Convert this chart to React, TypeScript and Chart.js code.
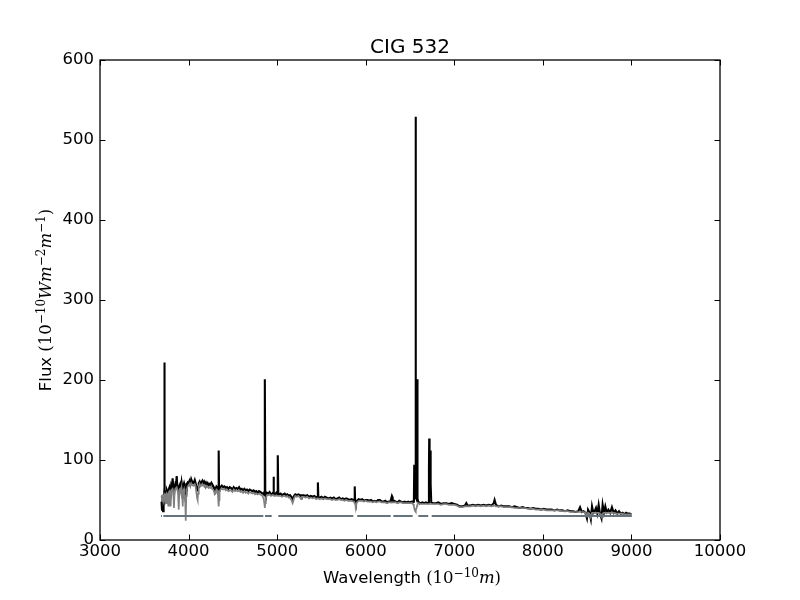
import { useEffect, useRef } from "react";
import { Chart, registerables } from "chart.js";

Chart.register(...registerables);

// ---------- DATA ----------
const titleText = "CIG 532";
const xTicks = [3000, 4000, 5000, 6000, 7000, 8000, 9000, 10000];
const yTicks = [0, 100, 200, 300, 400, 500, 600];

const wavelengths = [
  3695, 3700, 3706, 3712, 3716, 3720, 3724, 3727, 3730, 3736,
  3742, 3750, 3756, 3763, 3771, 3778, 3785, 3791, 3798, 3805,
  3812, 3820, 3828, 3835, 3842, 3850, 3858, 3866, 3873, 3881,
  3889, 3897, 3905, 3913, 3921, 3928, 3934, 3941, 3949, 3956,
  3962, 3968, 3974, 3981, 3990, 4000, 4010, 4020, 4030, 4040,
  4050, 4060, 4070, 4080, 4090, 4097, 4102, 4107, 4115, 4125,
  4135, 4145, 4155, 4165, 4175, 4185, 4195, 4205, 4215, 4225,
  4235, 4245, 4255, 4265, 4275, 4285, 4295, 4305, 4315, 4325,
  4332, 4336, 4340, 4344, 4350, 4360, 4375, 4390, 4405, 4420,
  4435, 4450, 4465, 4480, 4495, 4510, 4525, 4540, 4555, 4570,
  4585, 4600, 4615, 4630, 4645, 4660, 4675, 4690, 4705, 4720,
  4735, 4750, 4765, 4780, 4795, 4810, 4825, 4840, 4850, 4856,
  4861, 4866, 4872, 4885, 4900, 4915, 4930, 4945, 4954, 4959,
  4964, 4975, 4990, 5001, 5007, 5013, 5025, 5040, 5055, 5070,
  5085, 5100, 5115, 5130, 5145, 5160, 5175, 5190, 5205, 5220,
  5240, 5260, 5270, 5280, 5300, 5320, 5340, 5360, 5380, 5400,
  5420, 5440, 5455, 5460, 5465, 5480, 5500, 5520, 5540, 5560,
  5580, 5600, 5620, 5640, 5660, 5680, 5700, 5720, 5740, 5760,
  5780, 5800, 5820, 5840, 5860, 5872, 5876, 5880, 5890, 5900,
  5920, 5940, 5960, 5980, 6000, 6020, 6040, 6060, 6080, 6100,
  6120, 6140, 6160, 6180, 6200, 6220, 6240, 6260, 6280, 6296,
  6300, 6304, 6320, 6340, 6360, 6380, 6400, 6420, 6440, 6460,
  6480, 6500, 6520, 6536, 6544, 6548, 6551, 6558, 6563, 6567,
  6574, 6580, 6583, 6586, 6592, 6600, 6620, 6640, 6660, 6680,
  6700, 6710, 6714, 6717, 6721, 6726, 6731, 6735, 6740, 6760,
  6790, 6820, 6850, 6880, 6910, 6940, 6970, 7000, 7030, 7060,
  7090, 7120, 7136, 7150, 7180, 7210, 7240, 7270, 7300, 7330,
  7360, 7390, 7420, 7445, 7455, 7470, 7500, 7530, 7560, 7590,
  7620, 7650, 7680, 7710, 7740, 7770, 7800, 7830, 7860, 7890,
  7920, 7950, 7980, 8010, 8040, 8070, 8100, 8130, 8160, 8190,
  8220, 8250, 8280, 8310, 8340, 8370, 8400, 8420, 8440, 8460,
  8480, 8498, 8510, 8525, 8542, 8555, 8570, 8585, 8600, 8615,
  8630, 8645, 8662, 8675, 8690, 8705, 8720, 8740, 8760, 8780,
  8800, 8820, 8840, 8860, 8880, 8900, 8920, 8940, 8960, 8980,
  9000,
];

const observedFlux = [
  48, 38, 56, 36, 50, 42, 56, 222, 54, 60,
  58, 52, 62, 60, 48, 64, 66, 62, 52, 68,
  66, 77, 64, 55, 66, 70, 68, 80, 67, 64,
  58, 68, 70, 65, 72, 66, 52, 68, 71, 68,
  60, 48, 62, 70, 72, 71, 74, 70, 76, 73,
  71, 72, 75, 71, 66, 62, 65, 66, 71, 73,
  70, 72, 74, 71, 73, 70, 72, 69, 71, 68,
  70, 69, 71, 67, 68, 66, 62, 64, 67, 66,
  62, 60, 112, 62, 64, 66, 68, 66, 67, 65,
  66, 64, 66, 65, 63, 66, 64, 65, 64, 66,
  63, 64, 62, 64, 62, 63, 61, 63, 62, 61,
  62, 60, 61, 59, 61, 60, 59, 58, 57, 60,
  201, 58, 56, 59, 58, 60, 57, 58, 59, 79,
  58, 57, 59, 57, 106, 58, 57, 58, 56, 57,
  58, 56, 57, 55, 56, 54, 51, 55, 57, 56,
  57, 56, 53, 56, 56, 55, 56, 54, 55, 54,
  55, 53, 54, 72, 54, 53, 54, 52, 54, 53,
  52, 53, 52, 53, 51, 52, 53, 51, 52, 51,
  52, 51, 50, 51, 50, 51, 67, 50, 46, 49,
  51, 50, 51, 49, 50, 50, 49, 50, 48, 49,
  48, 50, 50, 48, 48, 49, 47, 48, 48, 55,
  54, 48, 49, 48, 47, 49, 48, 47, 48, 47,
  48, 47, 48, 48, 49, 94, 52, 54, 529, 56,
  52, 55, 201, 52, 48, 47, 46, 47, 46, 47,
  46, 47, 90, 127, 98, 92, 112, 70, 47, 46,
  46, 47, 45, 46, 46, 45, 46, 45, 44, 42,
  42, 43, 46, 43, 43, 44, 43, 44, 43, 44,
  43, 44, 43, 46, 50, 44, 42, 43, 42, 42,
  42, 41, 42, 41, 40, 41, 40, 40, 39, 40,
  39, 39, 38, 39, 38, 38, 38, 37, 38, 37,
  37, 36, 37, 36, 36, 35, 36, 41, 35, 36,
  34, 27, 38, 35, 26, 42, 34, 36, 40, 33,
  44, 33, 27, 44, 34, 42, 35, 38, 34, 41,
  34, 37, 33, 36, 33, 34, 32, 34, 33, 33,
  32,
];

const modelFlux = [
  55, 50, 57, 48, 53, 52, 55, 54, 53, 57,
  56, 46, 58, 57, 43, 60, 61, 58, 42, 62,
  62, 64, 60, 40, 60, 64, 64, 66, 63, 58,
  38, 63, 64, 60, 65, 56, 42, 62, 64, 58,
  48, 24, 55, 64, 67, 68, 70, 67, 71, 69,
  68, 69, 70, 67, 58, 52, 50, 58, 67, 70,
  67, 68, 70, 68, 69, 67, 68, 66, 67, 65,
  66, 65, 67, 64, 64, 62, 57, 58, 63, 62,
  56, 48, 42, 50, 60, 63, 64, 63, 64, 62,
  63, 61, 62, 62, 60, 63, 61, 62, 61, 62,
  60, 61, 59, 61, 59, 60, 58, 60, 59, 58,
  59, 57, 58, 57, 58, 57, 56, 54, 50, 45,
  40, 46, 52, 56, 56, 57, 55, 56, 56, 56,
  56, 55, 56, 55, 55, 55, 55, 55, 54, 55,
  55, 54, 55, 53, 53, 50, 46, 52, 55, 54,
  55, 53, 51, 54, 54, 53, 54, 52, 53, 52,
  53, 51, 52, 52, 52, 51, 52, 51, 52, 51,
  51, 51, 50, 51, 50, 50, 51, 50, 50, 49,
  50, 49, 49, 49, 48, 47, 46, 45, 42, 47,
  49, 49, 49, 48, 49, 48, 48, 48, 47, 48,
  47, 48, 48, 47, 47, 47, 46, 47, 47, 47,
  47, 47, 47, 47, 46, 47, 47, 46, 46, 46,
  46, 46, 46, 45, 42, 40, 38, 36, 35, 37,
  40, 43, 44, 45, 46, 46, 45, 45, 45, 45,
  45, 45, 45, 45, 45, 45, 45, 45, 45, 45,
  45, 45, 44, 45, 45, 44, 44, 44, 43, 41,
  41, 42, 42, 42, 42, 43, 42, 43, 42, 43,
  42, 43, 42, 43, 43, 42, 42, 42, 41, 41,
  41, 41, 40, 40, 40, 40, 40, 39, 39, 39,
  38, 38, 38, 38, 37, 37, 37, 37, 37, 37,
  36, 36, 36, 35, 35, 35, 35, 35, 35, 35,
  34, 30, 34, 33, 28, 34, 34, 34, 34, 34,
  34, 33, 29, 33, 34, 34, 34, 34, 34, 34,
  34, 33, 33, 33, 33, 33, 32, 32, 32, 32,
  32,
];

// masked-out regions shown as gaps (null) in the flag line
const maskWavelengths = [
  3690, 3700, 3707, 3715, 4844, 4853, 4863, 4939, 4976, 5013, 5860, 5882,
  5904, 6282, 6297, 6312, 6530, 6562, 6594, 6706, 6725, 6745, 9005,
];
const maskFlux = [
  30, 30, null, 30, 30, null, 30, 30, null, 30, 30, null,
  30, 30, null, 30, 30, null, 30, 30, null, 30, 30,
];

// ---------- STYLE ----------
const SANS = "DejaVu Sans";
const SERIF = "DejaVu Serif";
const BASE = 16.5;
const SUP = 12;
const RISE = 6.5;

type Run = { text: string; size: number; family: string; style?: string; rise?: number };

const xLabelRuns: Run[] = [
  { text: "Wavelength ", size: BASE, family: SANS },
  { text: "(10", size: BASE, family: SERIF },
  { text: "\u221210", size: SUP, family: SERIF, rise: RISE },
  { text: "m", size: BASE, family: SERIF, style: "italic" },
  { text: ")", size: BASE, family: SERIF },
];

const yLabelRuns: Run[] = [
  { text: "Flux ", size: BASE, family: SANS },
  { text: "(10", size: BASE, family: SERIF },
  { text: "\u221210", size: SUP, family: SERIF, rise: RISE },
  { text: "W", size: BASE, family: SERIF, style: "italic" },
  { text: "m", size: BASE, family: SERIF, style: "italic" },
  { text: "\u22122", size: SUP, family: SERIF, rise: RISE },
  { text: "m", size: BASE, family: SERIF, style: "italic" },
  { text: "\u22121", size: SUP, family: SERIF, rise: RISE },
  { text: ")", size: BASE, family: SERIF },
];

function drawRuns(ctx: CanvasRenderingContext2D, runs: Run[], x: number, y: number, angle: number) {
  ctx.save();
  ctx.translate(x, y);
  ctx.rotate(angle);
  ctx.textBaseline = "alphabetic";
  ctx.textAlign = "left";
  ctx.fillStyle = "#000";
  const fontOf = (r: Run) => `${r.style ?? "normal"} ${r.size}px "${r.family}"`;
  let total = 0;
  const widths = runs.map((r) => {
    ctx.font = fontOf(r);
    const w = ctx.measureText(r.text).width;
    total += w;
    return w;
  });
  let cx = -total / 2;
  runs.forEach((r, i) => {
    ctx.font = fontOf(r);
    ctx.fillText(r.text, cx, -(r.rise ?? 0));
    cx += widths[i];
  });
  ctx.restore();
}

const framePlugin = {
  id: "mplFrame",
  afterDatasetsDraw(chart: any) {
    const ctx: CanvasRenderingContext2D = chart.ctx;
    const { left, right, top, bottom } = chart.chartArea;
    const xs = chart.scales.x;
    const ys = chart.scales.y;
    const tl = 5.5;
    ctx.save();
    ctx.strokeStyle = "#000";
    ctx.lineWidth = 1;
    ctx.beginPath();
    xTicks.forEach((v) => {
      const px = Math.round(xs.getPixelForValue(v)) + 0.5;
      ctx.moveTo(px, bottom);
      ctx.lineTo(px, bottom - tl);
      ctx.moveTo(px, top);
      ctx.lineTo(px, top + tl);
    });
    yTicks.forEach((v) => {
      const py = Math.round(ys.getPixelForValue(v)) + 0.5;
      ctx.moveTo(left, py);
      ctx.lineTo(left + tl, py);
      ctx.moveTo(right, py);
      ctx.lineTo(right - tl, py);
    });
    ctx.stroke();
    ctx.lineWidth = 1.3;
    ctx.strokeRect(left, top, right - left, bottom - top);
    ctx.restore();
  },
  afterDraw(chart: any) {
    const ctx: CanvasRenderingContext2D = chart.ctx;
    const { left, right } = chart.chartArea;
    const cx = (left + right) / 2;
    ctx.save();
    ctx.fillStyle = "#000";
    ctx.font = `20px "${SANS}"`;
    ctx.textAlign = "center";
    ctx.textBaseline = "alphabetic";
    ctx.fillText(titleText, cx, 53);
    ctx.restore();
    drawRuns(ctx, xLabelRuns, cx + 2, 583, 0);
    drawRuns(ctx, yLabelRuns, 51, 300, -Math.PI / 2);
  },
};

export default function App() {
  const ref = useRef<HTMLCanvasElement | null>(null);

  useEffect(() => {
    if (!ref.current) return;
    const chart = new Chart(ref.current, {
      type: "line",
      data: {
        datasets: [
          {
            label: "mask",
            data: maskWavelengths.map((x, i) => ({ x, y: maskFlux[i] })),
            borderColor: "#65747c",
            borderWidth: 2,
            pointRadius: 0,
            spanGaps: false,
            order: 1,
          },
          {
            label: "model",
            data: wavelengths.map((x, i) => ({ x, y: modelFlux[i] })),
            borderColor: "#808080",
            borderWidth: 1.7,
            pointRadius: 0,
            order: 2,
          },
          {
            label: "observed",
            data: wavelengths.map((x, i) => ({ x, y: observedFlux[i] })),
            borderColor: "#000000",
            borderWidth: 2.1,
            pointRadius: 0,
            order: 3,
          },
        ] as any,
      },
      options: {
        animation: false,
        responsive: false,
        devicePixelRatio: 1,
        layout: { padding: { top: 60, right: 80, left: 0, bottom: 0 } },
        plugins: {
          legend: { display: false },
          title: { display: false },
          tooltip: { enabled: false },
        },
        elements: { line: { tension: 0 } },
        scales: {
          x: {
            type: "linear",
            min: 3000,
            max: 10000,
            afterBuildTicks: (s: any) => {
              s.ticks = xTicks.map((v) => ({ value: v }));
            },
            afterFit: (s: any) => {
              s.height = 60;
            },
            grid: { display: false, drawTicks: false },
            border: { display: false },
            ticks: {
              padding: 2,
              autoSkip: false,
              maxRotation: 0,
              color: "#000",
              font: { family: SANS, size: BASE },
              callback: (v: any) => String(v),
            },
          },
          y: {
            type: "linear",
            min: 0,
            max: 600,
            afterBuildTicks: (s: any) => {
              s.ticks = yTicks.map((v) => ({ value: v }));
            },
            afterFit: (s: any) => {
              s.width = 100;
            },
            grid: { display: false, drawTicks: false },
            border: { display: false },
            ticks: {
              padding: 6,
              autoSkip: false,
              color: "#000",
              font: { family: SANS, size: BASE },
              callback: (v: any) => String(v),
            },
          },
        },
      },
      plugins: [framePlugin],
    });
    return () => chart.destroy();
  }, []);

  return (
    <div style={{ position: "absolute", left: 0, top: 0, width: 800, height: 600, background: "#fff" }}>
      <canvas ref={ref} width={800} height={600} style={{ display: "block" }} />
    </div>
  );
}
